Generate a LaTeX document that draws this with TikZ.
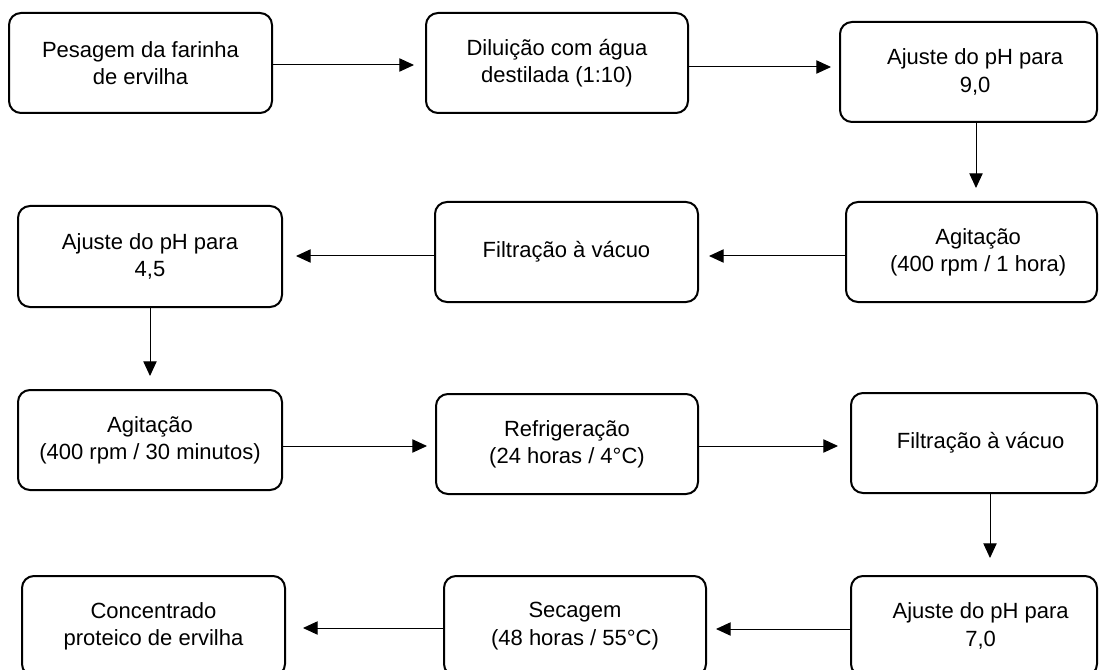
\documentclass[tikz,border=0pt]{standalone}
\usepackage{fontspec}
\setmainfont{Liberation Sans}
\usetikzlibrary{arrows.meta}
\begin{document}
\begin{tikzpicture}[x=0.75pt,y=-0.75pt,
  txt/.style={font=\fontsize{16.5}{20.5}\selectfont, align=center, text=black},
  stepbox/.style n args={2}{draw=black, line width=1.5pt, rounded corners=9pt,
     minimum width=#1*0.75pt, minimum height=#2*0.75pt, inner sep=0pt, txt},
  arr/.style={-{Triangle[length=11pt,width=10pt]}, line width=0.75pt, draw=black}]
\fill[white] (0,0) rectangle (1099,670);
\useasboundingbox (0,0) rectangle (1099,670);

% row 1
\node[stepbox={263}{100}] (A) at (140.5,63) {Pesagem da farinha\\de ervilha};
\node[stepbox={262}{100}] (B) at (557,63) {Diluição com água\\destilada (1:10)};
\node[stepbox={257}{100}, label={[name=Ct, txt, xshift=5pt]center:{Ajuste do pH para\\9,0}}] (C) at (968.5,72) {};

% row 2
\node[stepbox={251}{100}, label={[name=Dt, txt, xshift=5pt]center:{Agitação\\(400 rpm / 1 hora)}}] (D) at (971.5,252) {};
\node[stepbox={263}{100}] (E) at (566.5,252) {Filtração à vácuo};
\node[stepbox={264}{101}] (F) at (150,256.5) {Ajuste do pH para\\4,5};

% row 3
\node[stepbox={264}{100}] (G) at (150,440) {Agitação\\(400 rpm / 30 minutos)};
\node[stepbox={262}{100}] (R) at (567,444) {Refrigeração\\(24 horas / 4°C)};
\node[stepbox={246}{100}, label={[name=Fit, txt, xshift=5pt]center:{Filtração à vácuo}}] (Fi) at (974,443) {};

% row 4
\node[stepbox={246}{100}, label={[name=Jt, txt, xshift=5pt]center:{Ajuste do pH para\\7,0}}] (J) at (974,626) {};
\node[stepbox={262}{100}] (S) at (575,626) {Secagem\\(48 horas / 55°C)};
\node[stepbox={263}{100}] (H) at (153.5,626) {Concentrado\\proteico de ervilha};

% connectors
\draw[arr, shorten >=8.25pt] (A.east |- 0,65) -- (B.west |- 0,65);
\draw[arr, shorten >=6pt] (B.east |- 0,67) -- (C.west |- 0,67);
\draw[arr, shorten >=9.75pt] (C.south -| 976,0) -- (D.north -| 976,0);
\draw[arr, shorten >=7.5pt] (D.west |- 0,256) -- (E.east |- 0,256);
\draw[arr, shorten >=9.75pt] (E.west |- 0,256) -- (F.east |- 0,256);
\draw[arr, shorten >=9.75pt] (F.south) -- (G.north);
\draw[arr, shorten >=6pt] (G.east |- 0,446) -- (R.west |- 0,446);
\draw[arr, shorten >=9pt] (R.east |- 0,446) -- (Fi.west |- 0,446);
\draw[arr, shorten >=12.75pt] (Fi.south -| 990,0) -- (J.north -| 990,0);
\draw[arr, shorten >=6.75pt] (J.west |- 0,629) -- (S.east |- 0,629);
\draw[arr, shorten >=12.75pt] (S.west |- 0,628) -- (H.east |- 0,628);
\end{tikzpicture}
\end{document}
